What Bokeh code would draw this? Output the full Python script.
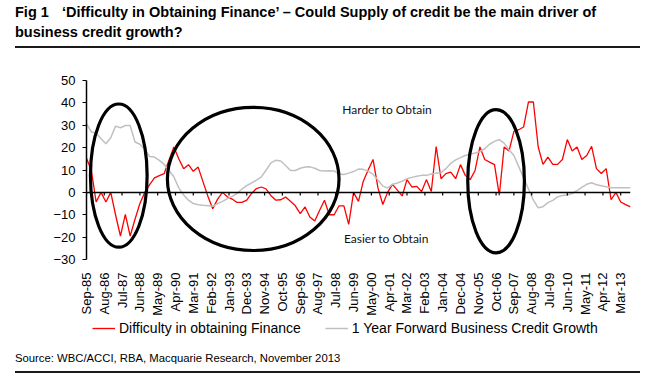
import numpy as np
import pandas as pd
from bokeh.plotting import figure
from bokeh.layouts import column
from bokeh.models import (Range1d, FixedTicker, DatetimeTickFormatter, Span,
                          Legend, LegendItem, Div)
from bokeh.embed import file_html
from bokeh.resources import INLINE
from bokeh.core.properties import value

# ---------------- data (quarterly, Sep-85 .. Sep-13) ----------------
START = "1985-09-01"
DIFFICULTY = [
    15.3, 9.8, -4.3, 0, -4.3, 0, -10, -19.5, -9.8, -19.5,
    -12, -5, 0, 3.5, 6.5, 7.5, 8.4, 14.5, 20.3, 15,
    10.6, 12.4, 9.4, 11.3, 4.7, -1.7, -7.3, -3, 0, -2,
    -3, -4.5, -4.5, -3.5, -0.5, 1.7, 2.4, 1.5, -1.5, -3.5,
    -3.3, -2.1, -4, -6, -9.5, -6.5, -11, -12.8, -8, -3.5,
    -10, -10, -6, -6, -14.3, 0, -4, 5, 10, 14.7,
    2, -5.4, 0, 3.6, 1, -1.6, 5.7, 2.4, 2.7, 0.4,
    5.7, 0.4, 20.5, 6.1, 8.4, 9.1, 6.1, 12.4, 7.6, 5.7,
    9.8, 20.3, 14.7, 13.5, 12.4, -1.3, 20.3, 18.5, 27.3, 28,
    29.2, 40.4, 40.4, 20.3, 12.5, 15.8, 12.5, 12.5, 14.7, 23.6,
    18.5, 20.3, 14.7, 16.5, 20.6, 10.6, 8.4, 10.6, -3.3, 0,
    -4.3, -5.5, -6.5,
]
CREDIT_GROWTH = [
    30.7, 27, 26.5, 24, 21.7, 24.4, 29.6, 28.9, 29.9, 29.9,
    22.5, 21.5, 19.2, 16, 15.8, 14.3, 12.5, 9.8, 7, 2,
    -1.2, -3.5, -5, -5.5, -5.8, -6, -6.2, -5, -4, -2.8,
    -1.8, -0.5, 1.5, 3, 4.2, 5.5, 6.9, 10, 13.2, 14.4,
    14, 12, 9.8, 9.8, 10.8, 11.3, 11.4, 10.8, 9.8, 9.6,
    9.7, 9.6, 8.2, 8, 8.6, 9.3, 10.4, 10.3, 9.5, 8,
    5.5, 2.8, 2, 3.6, 4.2, 5, 6.1, 6.7, 7.2, 7.6,
    7.6, 8.2, 8.6, 8.8, 10.6, 13, 14.5, 15.5, 16.5, 17,
    17.6, 18.2, 19.5, 21.5, 22.8, 23.6, 22, 19, 16.5, 11.5,
    6.5, 1.5, -3.5, -6.9, -6.4, -4.6, -3.6, -2, -1.4, -1.2,
    -0.5, 0.8, 2.2, 3.6, 4.3, 3.4, 3, 2.5, 2.1, 2.1,
    2.1, 2.1, 2.1,
]
SERIES_NAMES = ["Difficulty in obtaining Finance", "1 Year Forward Business Credit Growth"]
SERIES_COLORS = ["#ff0000", "#c0c0c0"]
TICK_LABELS = ["Sep-85", "Aug-86", "Jul-87", "Jun-88", "May-89", "Apr-90", "Mar-91",
               "Feb-92", "Jan-93", "Dec-93", "Nov-94", "Oct-95", "Sep-96", "Aug-97",
               "Jul-98", "Jun-99", "May-00", "Apr-01", "Mar-02", "Feb-03", "Jan-04",
               "Dec-04", "Nov-05", "Oct-06", "Sep-07", "Aug-08", "Jul-09", "Jun-10",
               "May-11", "Apr-12", "Mar-13"]
Y_TICKS = [-30, -20, -10, 0, 10, 20, 30, 40, 50]
ELLIPSE_CENTRES = ["1987-05-01", "1994-04-01", "2006-10-01"]
ELLIPSE_Y = [7.5, 6.0, 5.0]
ELLIPSE_WIDTH_MONTHS = [35, 106, 35]
ELLIPSE_HEIGHT = [64, 64, 64]
NOTES = ["Harder to Obtain", "Easier to Obtain"]
NOTE_DATES = ["1998-11-01", "1998-12-01"]
NOTE_Y = [37, -20.6]
TITLE_FIG = "Fig 1"
TITLE_1 = "\u2018Difficulty in Obtaining Finance\u2019 \u2013 Could Supply of credit be the main driver of"
TITLE_2 = "business credit growth?"
SOURCE = "Source: WBC/ACCI, RBA, Macquarie Research, November 2013"

MONTH_MS = 30.4375 * 86400000.0
FONT = "Liberation Sans"
W = 645


def rule_html(top):
    return ('<div style="position:absolute;left:15px;top:%dpx;width:625px;height:2px;'
            'overflow:hidden;background-color:#1a1a1a;font-size:1px;line-height:2px;">'
            '&nbsp;</div>' % top)


def rule_styles(top):
    return {"background-image": "linear-gradient(#1a1a1a, #1a1a1a)",
            "background-repeat": "no-repeat",
            "background-position": "15px %dpx" % top,
            "background-size": "625px 2px"}


dates = pd.date_range(START, periods=len(DIFFICULTY), freq="3MS")
tick_dates = [pd.to_datetime(t, format="%b-%y") for t in TICK_LABELS]
tick_ms = [t.value / 1e6 for t in tick_dates]

# ---------------- header (title + rule) ----------------
title_html = (
    '<div style="position:relative;width:645px;height:50px;font-family:\'Liberation Sans\';'
    'font-weight:bold;font-size:14.5px;line-height:16px;color:#000;">'
    f'<div style="position:absolute;left:15px;top:4px;white-space:nowrap;">{TITLE_FIG}</div>'
    f'<div style="position:absolute;left:62px;top:4px;white-space:nowrap;">{TITLE_1}</div>'
    f'<div style="position:absolute;left:15px;top:24px;white-space:nowrap;">{TITLE_2}</div>'
    + rule_html(46) + '</div>'
)
header = Div(text=title_html, width=W, height=50, margin=0, styles=rule_styles(46))

# ---------------- chart ----------------
p = figure(frame_width=544, frame_height=179, x_axis_type="datetime",
           x_range=Range1d(dates[0], dates[-1]), y_range=Range1d(-30, 50),
           output_backend="svg", toolbar_location=None,
           min_border_left=86, min_border_right=15, min_border_top=30, min_border_bottom=60,
           background_fill_color="white", border_fill_color="white", outline_line_color=None)
p.xgrid.visible = False
p.ygrid.visible = False

ya = p.yaxis[0]
ya.ticker = FixedTicker(ticks=Y_TICKS)
ya.axis_line_color = "black"
ya.axis_line_width = 1.5
ya.major_tick_line_color = "black"
ya.major_tick_line_width = 1.2
ya.major_tick_in = 0
ya.major_tick_out = 4
ya.minor_tick_line_color = None
ya.major_label_standoff = 7
ya.major_label_text_font = FONT
ya.major_label_text_font_size = "13px"
ya.major_label_text_color = "black"

xa = p.xaxis[0]
xa.ticker = FixedTicker(ticks=tick_ms)
fmt = "%b-%y"
xa.formatter = DatetimeTickFormatter(milliseconds=fmt, seconds=fmt, minsec=fmt, minutes=fmt,
                                     hourmin=fmt, hours=fmt, days=fmt, months=fmt, years=fmt)
xa.axis_line_color = None
xa.major_tick_line_color = None
xa.minor_tick_line_color = None
xa.major_label_orientation = np.pi / 2
xa.major_label_standoff = 7
xa.major_label_text_font = FONT
xa.major_label_text_font_size = "13px"
xa.major_label_text_color = "black"

p.line(dates, DIFFICULTY, line_color=SERIES_COLORS[0], line_width=1.3)
p.line(dates, CREDIT_GROWTH, line_color=SERIES_COLORS[1], line_width=1.5)

p.add_layout(Span(location=0, dimension="width", line_color="black", line_width=1.5))
p.segment(x0=tick_dates, y0=[0] * len(tick_dates), x1=tick_dates, y1=[-1.4] * len(tick_dates),
          line_color="black", line_width=1.2)

p.ellipse(x=pd.to_datetime(ELLIPSE_CENTRES), y=ELLIPSE_Y,
          width=[w * MONTH_MS for w in ELLIPSE_WIDTH_MONTHS], height=ELLIPSE_HEIGHT,
          fill_color=None, line_color="black", line_width=3.2)

p.text(x=pd.to_datetime(NOTE_DATES), y=NOTE_Y, text=NOTES, text_font=value("Lato"),
       text_font_size="12px", text_baseline="middle", text_align="left", text_color="#111111")

# ---------------- legend strip (frame aligned with the chart's frame) ----------------
lg = figure(width=W, height=18, x_range=Range1d(0, 1), y_range=Range1d(0, 1),
            x_axis_location=None, y_axis_location=None, output_backend="svg",
            toolbar_location=None, min_border=0, outline_line_color=None,
            background_fill_color="white", border_fill_color="white")
lg.xgrid.visible = False
lg.ygrid.visible = False
# same series drawn off-range here: only their legend swatches show
k1 = lg.line(dates, DIFFICULTY, line_color=SERIES_COLORS[0], line_width=1.3)
k2 = lg.line(dates, CREDIT_GROWTH, line_color=SERIES_COLORS[1], line_width=1.5)
legend = Legend(items=[LegendItem(label=SERIES_NAMES[0], renderers=[k1]),
                       LegendItem(label=SERIES_NAMES[1], renderers=[k2])],
                orientation="horizontal", location=(6, 1), glyph_width=23, glyph_height=14,
                label_standoff=4, spacing=24, padding=0, margin=0, border_line_color=None,
                background_fill_alpha=0, label_text_font=FONT, label_text_font_size="14px",
                label_text_color="black")
lg.add_layout(legend)

# ---------------- footer (source + rule) ----------------
source_html = (
    '<div style="position:relative;width:645px;height:40px;font-family:\'Liberation Sans\';'
    'font-size:11.3px;line-height:14px;color:#000;">'
    f'<div style="position:absolute;left:15px;top:14px;white-space:nowrap;">{SOURCE}</div>'
    + rule_html(34) + '</div>'
)
footer = Div(text=source_html, width=W, height=40, margin=0, styles=rule_styles(34))

layout = column(header, p, lg, footer, spacing=0)
open("out.html", "w").write(file_html(layout, INLINE))
